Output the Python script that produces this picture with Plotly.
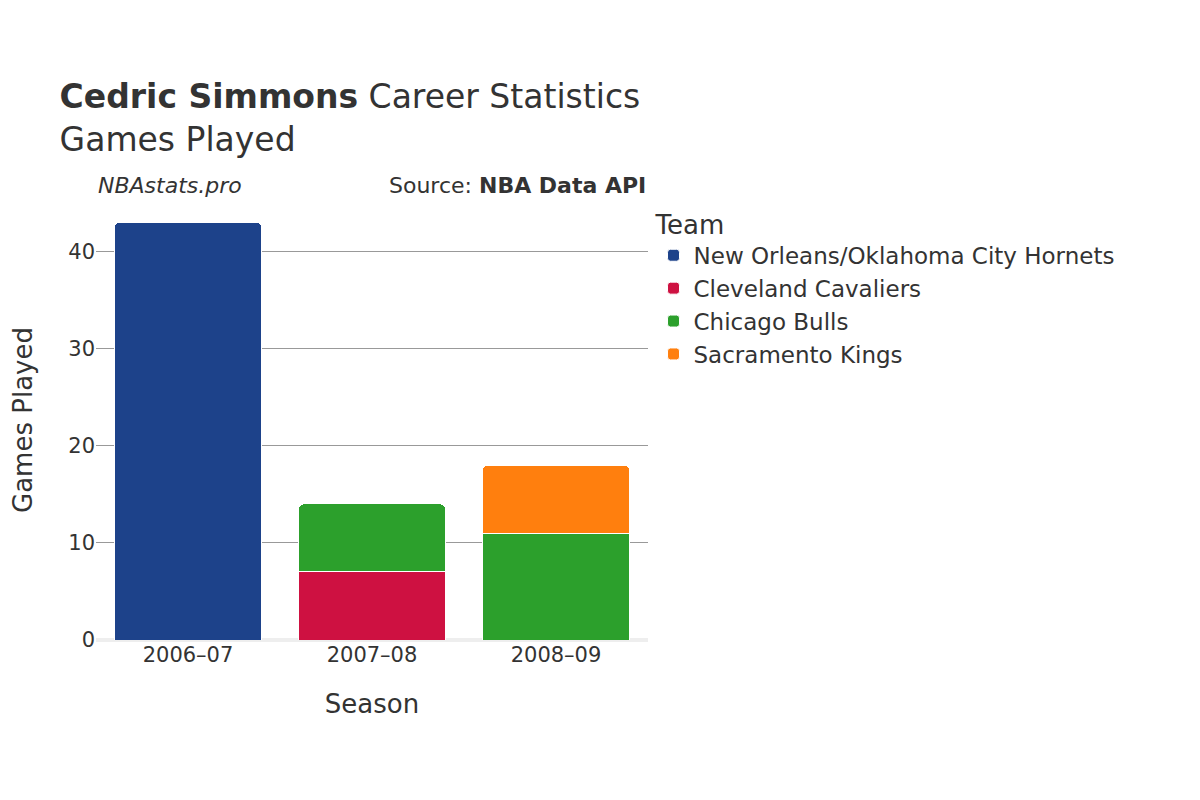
import plotly.graph_objects as go

seasons = ["2006–07", "2007–08", "2008–09"]
teams = ["New Orleans/Oklahoma City Hornets", "Cleveland Cavaliers", "Chicago Bulls", "Sacramento Kings"]
colors = ["#1d428a", "#ce1141", "#2ca02c", "#ff7f0e"]
games = {
    "New Orleans/Oklahoma City Hornets": [43, None, None],
    "Cleveland Cavaliers": [None, 7, None],
    "Chicago Bulls": [None, 7, 11],
    "Sacramento Kings": [None, None, 7],
}

fig = go.Figure()
for team, color in zip(teams, colors):
    fig.add_trace(go.Bar(
        x=seasons, y=games[team], name=team,
        marker=dict(color=color, line=dict(color="white", width=1)),
    ))

fig.update_layout(
    barmode="stack",
    bargap=0.2,
    barcornerradius=5,
    width=1200, height=800,
    font=dict(family="DejaVu Sans", size=20, color="#333"),
    plot_bgcolor="white", paper_bgcolor="white",
    margin=dict(l=84, r=560, t=192, b=168),
    title=dict(
        text="<b>Cedric Simmons</b> Career Statistics<br>Games Played",
        x=0.043, xanchor="left", y=0.875, yanchor="top",
        font=dict(size=33, color="#333"),
    ),
    legend=dict(
        title=dict(text="Team", font=dict(size=26)),
        traceorder="normal",
        x=1.01, xanchor="left", y=1.0, yanchor="top",
        font=dict(size=23), tracegroupgap=10,
    ),
    xaxis=dict(title=dict(text="Season", font=dict(size=26), standoff=28), showgrid=False,
               tickfont=dict(size=21)),
    yaxis=dict(
        title=dict(text="Games Played", font=dict(size=26), standoff=30),
        gridcolor="#999", zeroline=True, zerolinecolor="#eee", zerolinewidth=4,
        tickvals=[0, 10, 20, 30, 40], tickfont=dict(size=21),
    ),
    annotations=[
        dict(text="<i>NBAstats.pro</i>", x=0.0, xref="paper", y=1.0, yref="paper",
             xanchor="left", yanchor="bottom", showarrow=False, font=dict(size=22)),
        dict(text="Source: <b>NBA Data API</b>", x=1.0, xref="paper", y=1.0, yref="paper",
             xanchor="right", yanchor="bottom", showarrow=False, font=dict(size=22)),
    ],
)

fig.write_html("out.html")
